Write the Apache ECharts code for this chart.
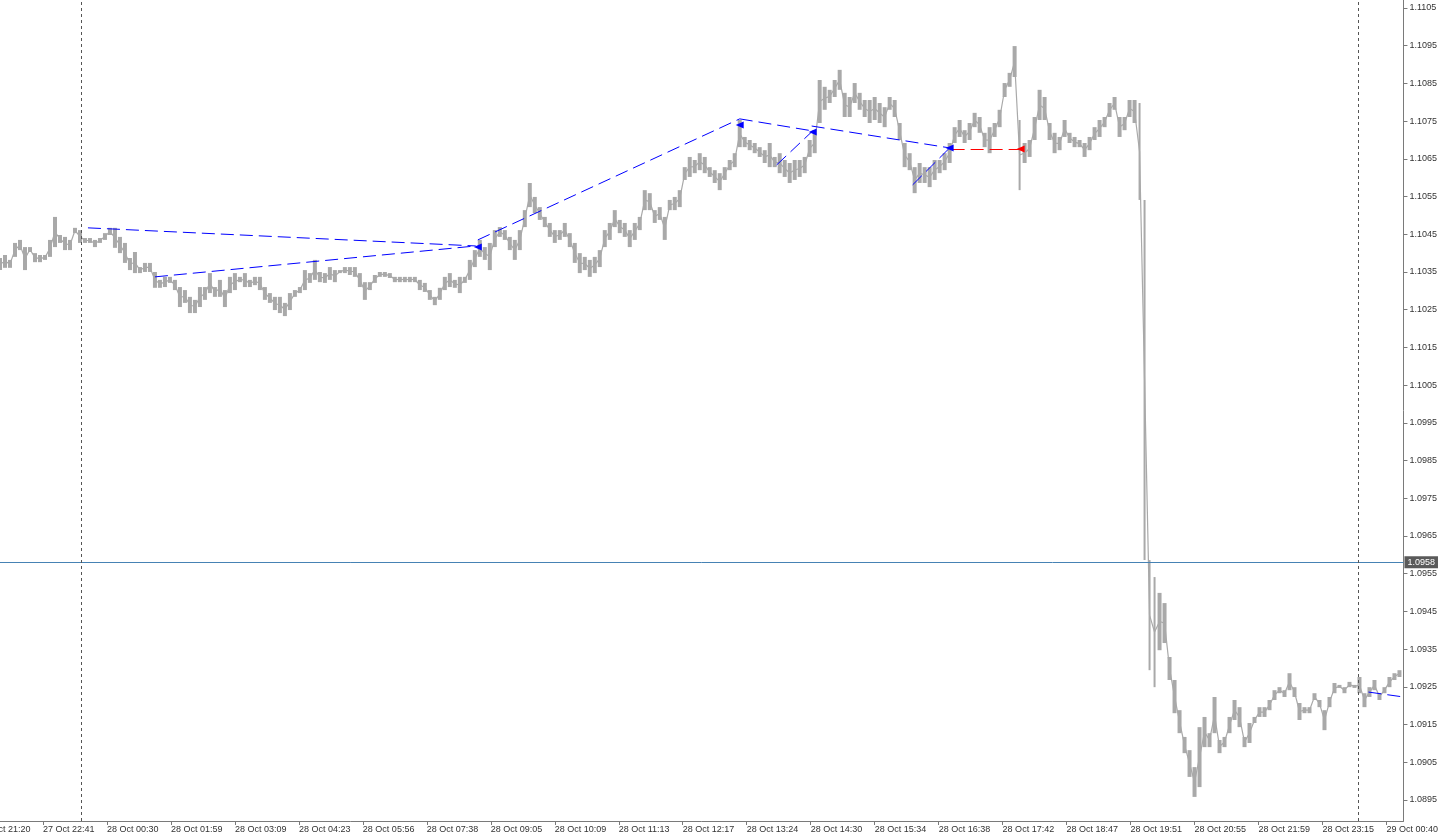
<!DOCTYPE html>
<html><head><meta charset="utf-8">
<script src="https://cdn.jsdelivr.net/npm/echarts@6/dist/echarts.min.js"></script>
<style>html,body{margin:0;padding:0;background:#fff;overflow:hidden}#c{width:1441px;height:837px}</style>
</head><body><div id="c"></div>
<script>
// One sample every 5 one-minute bars
const barStep = 5;
const highs = [
1.10387,1.10395,1.10382,1.10427,1.10435,1.10416,1.10416,1.10400,1.10395,1.10395,
1.10435,1.10496,1.10448,1.10443,1.10435,1.10467,1.10461,1.10440,1.10440,1.10435,
1.10440,1.10453,1.10467,1.10467,1.10443,1.10427,1.10387,1.10403,1.10363,1.10374,
1.10374,1.10350,1.10329,1.10337,1.10337,1.10329,1.10310,1.10302,1.10284,1.10276,
1.10310,1.10310,1.10347,1.10310,1.10329,1.10302,1.10337,1.10347,1.10337,1.10347,
1.10329,1.10337,1.10337,1.10310,1.10294,1.10284,1.10284,1.10268,1.10294,1.10302,
1.10310,1.10355,1.10347,1.10382,1.10350,1.10347,1.10363,1.10355,1.10355,1.10363,
1.10363,1.10363,1.10347,1.10323,1.10323,1.10342,1.10350,1.10350,1.10347,1.10337,
1.10337,1.10337,1.10337,1.10337,1.10329,1.10321,1.10302,1.10284,1.10308,1.10337,
1.10347,1.10329,1.10337,1.10337,1.10382,1.10408,1.10435,1.10416,1.10427,1.10461,
1.10469,1.10461,1.10443,1.10435,1.10461,1.10514,1.10586,1.10549,1.10522,1.10496,
1.10480,1.10461,1.10461,1.10480,1.10453,1.10427,1.10400,1.10390,1.10382,1.10390,
1.10408,1.10461,1.10480,1.10514,1.10488,1.10480,1.10461,1.10480,1.10496,1.10567,
1.10559,1.10514,1.10522,1.10496,1.10541,1.10549,1.10567,1.10628,1.10655,1.10647,
1.10665,1.10655,1.10628,1.10620,1.10612,1.10628,1.10647,1.10665,1.10753,1.10708,
1.10700,1.10692,1.10681,1.10673,1.10692,1.10655,1.10665,1.10647,1.10639,1.10647,
1.10647,1.10655,1.10700,1.10719,1.10859,1.10841,1.10833,1.10859,1.10886,1.10825,
1.10814,1.10851,1.10825,1.10806,1.10806,1.10814,1.10798,1.10787,1.10814,1.10806,
1.10745,1.10692,1.10665,1.10628,1.10639,1.10628,1.10628,1.10647,1.10647,1.10665,
1.10692,1.10734,1.10753,1.10726,1.10745,1.10772,1.10761,1.10719,1.10734,1.10745,
1.10780,1.10851,1.10878,1.10949,1.10753,1.10692,1.10700,1.10761,1.10833,1.10814,
1.10745,1.10719,1.10708,1.10753,1.10719,1.10708,1.10700,1.10692,1.10708,1.10734,
1.10753,1.10761,1.10798,1.10814,1.10761,1.10761,1.10806,1.10806,1.10798,1.10541,
1.09586,1.09541,1.09499,1.09472,1.09329,1.09268,1.09188,1.09117,1.09082,1.09037,
1.09143,1.09170,1.09127,1.09223,1.09109,1.09117,1.09170,1.09215,1.09196,1.09117,
1.09154,1.09170,1.09196,1.09196,1.09215,1.09241,1.09249,1.09241,1.09286,1.09249,
1.09207,1.09196,1.09196,1.09233,1.09215,1.09188,1.09223,1.09260,1.09255,1.09249,
1.09263,1.09255,1.09276,1.09233,1.09249,1.09268,1.09233,1.09249,1.09276,1.09286,
1.09294];
const lows = [
1.10355,1.10361,1.10361,1.10390,1.10408,1.10355,1.10403,1.10376,1.10376,1.10382,
1.10390,1.10416,1.10427,1.10408,1.10408,1.10453,1.10427,1.10427,1.10427,1.10416,
1.10427,1.10435,1.10448,1.10414,1.10400,1.10374,1.10355,1.10347,1.10347,1.10350,
1.10350,1.10308,1.10308,1.10310,1.10321,1.10302,1.10257,1.10268,1.10241,1.10241,
1.10257,1.10276,1.10294,1.10284,1.10284,1.10257,1.10294,1.10302,1.10323,1.10310,
1.10310,1.10315,1.10302,1.10276,1.10268,1.10249,1.10241,1.10233,1.10249,1.10284,
1.10294,1.10302,1.10321,1.10329,1.10323,1.10321,1.10329,1.10323,1.10347,1.10347,
1.10342,1.10337,1.10310,1.10276,1.10302,1.10321,1.10337,1.10337,1.10334,1.10323,
1.10323,1.10323,1.10323,1.10323,1.10302,1.10297,1.10276,1.10262,1.10276,1.10302,
1.10310,1.10308,1.10294,1.10321,1.10329,1.10363,1.10390,1.10382,1.10355,1.10416,
1.10443,1.10435,1.10408,1.10382,1.10408,1.10469,1.10522,1.10506,1.10488,1.10469,
1.10443,1.10427,1.10435,1.10443,1.10416,1.10374,1.10347,1.10355,1.10337,1.10347,
1.10363,1.10416,1.10435,1.10469,1.10453,1.10443,1.10416,1.10435,1.10461,1.10514,
1.10514,1.10480,1.10488,1.10435,1.10514,1.10514,1.10522,1.10594,1.10602,1.10612,
1.10620,1.10612,1.10602,1.10586,1.10567,1.10594,1.10620,1.10628,1.10681,1.10681,
1.10673,1.10665,1.10655,1.10639,1.10628,1.10628,1.10612,1.10602,1.10586,1.10594,
1.10602,1.10612,1.10655,1.10665,1.10745,1.10780,1.10798,1.10814,1.10833,1.10761,
1.10761,1.10798,1.10780,1.10761,1.10745,1.10753,1.10745,1.10734,1.10780,1.10761,
1.10700,1.10628,1.10620,1.10559,1.10586,1.10586,1.10575,1.10594,1.10612,1.10620,
1.10639,1.10692,1.10708,1.10692,1.10700,1.10734,1.10719,1.10681,1.10665,1.10708,
1.10734,1.10814,1.10841,1.10867,1.10567,1.10639,1.10655,1.10700,1.10753,1.10753,
1.10700,1.10665,1.10673,1.10708,1.10692,1.10681,1.10681,1.10655,1.10673,1.10700,
1.10708,1.10734,1.10761,1.10780,1.10708,1.10726,1.10761,1.10745,1.10541,1.09586,
1.09294,1.09249,1.09347,1.09366,1.09268,1.09180,1.09127,1.09074,1.09011,1.08958,
1.08984,1.09090,1.09090,1.09127,1.09074,1.09090,1.09127,1.09162,1.09143,1.09090,
1.09101,1.09154,1.09170,1.09170,1.09188,1.09215,1.09233,1.09223,1.09241,1.09223,
1.09162,1.09180,1.09180,1.09215,1.09196,1.09135,1.09196,1.09233,1.09247,1.09233,
1.09249,1.09247,1.09233,1.09196,1.09223,1.09241,1.09215,1.09233,1.09249,1.09268,
1.09276];

const timeLabels = ['27 Oct 21:20','27 Oct 22:41','28 Oct 00:30','28 Oct 01:59','28 Oct 03:09','28 Oct 04:23',
 '28 Oct 05:56','28 Oct 07:38','28 Oct 09:05','28 Oct 10:09','28 Oct 11:13','28 Oct 12:17','28 Oct 13:24',
 '28 Oct 14:30','28 Oct 15:34','28 Oct 16:38','28 Oct 17:42','28 Oct 18:47','28 Oct 19:51','28 Oct 20:55',
 '28 Oct 21:59','28 Oct 23:15','29 Oct 00:40'];
const timeTickBars = [-21,43,107,171,235,299,363,427,491,555,619,683,747,811,875,939,1003,1067,1131,1195,1259,1323,1387];
const priceTicks = [1.0895,1.0905,1.0915,1.0925,1.0935,1.0945,1.0955,1.0965,1.0975,1.0985,1.0995,
 1.1005,1.1015,1.1025,1.1035,1.1045,1.1055,1.1065,1.1075,1.1085,1.1095,1.1105];
const currentPrice = 1.0958;
const separatorBars = [81, 1359];
// [openBar, openPrice, closeBar, closePrice, colour]
const trades = [
 [88, 1.10467, 476, 1.10419, '#0000ff'],
 [155, 1.10337, 476, 1.10419, '#0000ff'],
 [478, 1.10435, 740, 1.10756, '#0000ff'],
 [740, 1.10756, 813, 1.10724, '#0000ff'],
 [777, 1.10634, 813, 1.10724, '#0000ff'],
 [812, 1.10737, 950, 1.10679, '#0000ff'],
 [913, 1.10581, 950, 1.10679, '#0000ff'],
 [952, 1.10676, 1020, 1.10676, '#ff0000'],
 [1369, 1.09236, 1404, 1.09223, '#0000ff']
];
// [bar, price, colour]
const arrows = [
 [478, 1.10416, '#0000ff'],
 [740, 1.10740, '#0000ff'],
 [813, 1.10721, '#0000ff'],
 [950, 1.10679, '#0000ff'],
 [1021, 1.10676, '#ff0000']
];

const FONT = 'Liberation Sans';
const shownTicks = timeTickBars.filter(b => b >= 0);
const chart = echarts.init(document.getElementById('c'), null, {renderer: 'canvas'});
chart.setOption({
  animation: false,
  backgroundColor: '#ffffff',
  grid: {left: 0, right: 37, top: 0, bottom: 16, containLabel: false},
  xAxis: {
    type: 'value', min: 0, max: 1404,
    splitLine: {show: false},
    axisLine: {show: true, onZero: false, lineStyle: {color: '#7a7a7a', width: 1}},
    axisTick: {show: true, customValues: shownTicks, length: 4, lineStyle: {color: '#7a7a7a'}},
    axisLabel: {
      customValues: shownTicks, align: 'left', margin: 4,
      fontFamily: FONT, fontSize: 9, color: '#333',
      formatter: v => { const i = timeTickBars.indexOf(v); return i >= 0 ? timeLabels[i] : ''; }
    }
  },
  yAxis: {
    type: 'value', position: 'right', min: 1.088941, max: 1.110712,
    splitLine: {show: false},
    axisLine: {show: true, onZero: false, lineStyle: {color: '#7a7a7a', width: 1}},
    axisTick: {show: true, customValues: priceTicks, length: 4, lineStyle: {color: '#7a7a7a'}},
    axisLabel: {
      customValues: priceTicks, margin: 6, fontFamily: FONT, fontSize: 9, color: '#333',
      formatter: v => v.toFixed(4)
    }
  },
  series: [
    {
      type: 'line',
      silent: true, symbol: 'none', z: 1,
      data: highs.map((h, i) => [i * barStep, (h + lows[i]) / 2]),
      lineStyle: {color: '#a9a9a9', width: 1.2}
    },
    {
      type: 'custom',
      clip: true, z: 2,
      data: highs.map((h, i) => [i * barStep, lows[i], h]),
      renderItem: (params, api) => {
        const x = api.value(0);
        const top = api.coord([x, api.value(2)]);
        const bot = api.coord([x, api.value(1)]);
        const h = Math.max(1, bot[1] - top[1]);
        const w = h > 60 ? 2 : 4;
        return {type: 'rect', shape: {x: top[0] - w / 2, y: top[1], width: w, height: h},
                style: {fill: '#a9a9a9'}};
      }
    },
    {
      type: 'lines',
      coordinateSystem: 'cartesian2d',
      silent: true, z: 3,
      data: trades.map(t => ({coords: [[t[0], t[1]], [t[2], t[3]]],
                              lineStyle: {color: t[4], width: 1, opacity: 1, type: [13, 6]}}))
    },
    {
      type: 'scatter',
      silent: true, z: 4,
      symbol: 'triangle', symbolSize: [7, 8], symbolRotate: 90,
      data: arrows.map(a => ({value: [a[0], a[1]], itemStyle: {color: a[2], opacity: 1}})),
      markLine: {
        silent: true, symbol: 'none', precision: 5,
        data: [
          {yAxis: currentPrice, lineStyle: {color: '#4682b4', type: 'solid', width: 1},
           label: {show: true, position: 'end', formatter: currentPrice.toFixed(4), distance: 1,
                   backgroundColor: '#5a5a5a', color: '#fff', padding: [2, 3, 1, 3],
                   fontFamily: FONT, fontSize: 9}},
          ...separatorBars.map(b => ({xAxis: b, lineStyle: {color: '#555', type: [3, 3], width: 1},
                                      label: {show: false}}))
        ]
      }
    }
  ]
});
// first time label lies left of the visible range; place it through the axis scale
const firstX = chart.convertToPixel({xAxisIndex: 0}, timeTickBars[0]);
const axisY = chart.convertToPixel({yAxisIndex: 0}, 1.088941);
chart.setOption({graphic: [{type: 'text', x: firstX, y: axisY + 4, silent: true,
  style: {text: timeLabels[0], fill: '#333', font: '9px ' + FONT, textAlign: 'left', textVerticalAlign: 'top'}}]});
</script></body></html>
